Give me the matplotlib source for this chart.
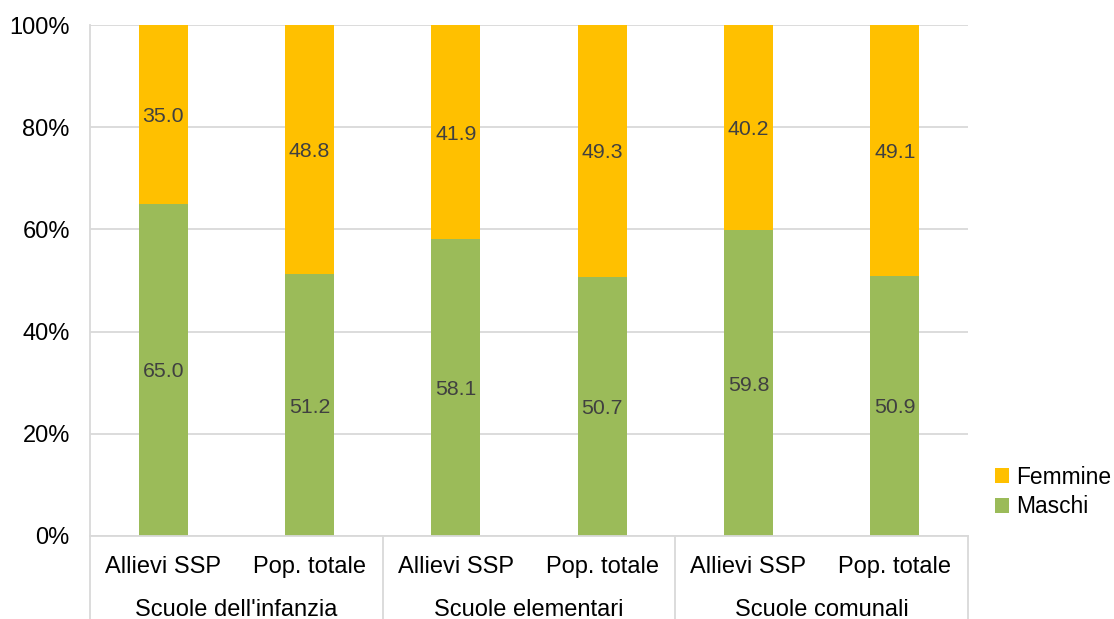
import matplotlib
matplotlib.use("Agg")
import matplotlib.pyplot as plt
from matplotlib.patches import Patch
from matplotlib.lines import Line2D

plt.rcParams['font.family'] = ['Liberation Sans', 'DejaVu Sans']

groups = ["Scuole dell'infanzia", "Scuole elementari", "Scuole comunali"]
subcats = ["Allievi SSP", "Pop. totale", "Allievi SSP", "Pop. totale", "Allievi SSP", "Pop. totale"]
maschi = [65.0, 51.2, 58.1, 50.7, 59.8, 50.9]
femmine = [35.0, 48.8, 41.9, 49.3, 40.2, 49.1]

GREEN = "#9BBB59"
YELLOW = "#FFC000"
GRID = "#D9D9D9"
LBL = "#404040"

fig = plt.figure(figsize=(11.14, 6.19), dpi=100)
ax = fig.add_axes([90/1114, 1-536/619, (968-90)/1114, (536-25)/619])

x = list(range(len(subcats)))
w = 0.333
ax.bar(x, maschi, width=w, color=GREEN, zorder=2, label="Maschi")
ax.bar(x, femmine, width=w, bottom=maschi, color=YELLOW, zorder=2, label="Femmine")

for i in x:
    ax.text(i, maschi[i]/2, f"{maschi[i]:.1f}", ha="center", va="center_baseline",
            fontsize=15.3, color=LBL, zorder=3)
    ax.text(i, maschi[i] + femmine[i]/2, f"{femmine[i]:.1f}", ha="center", va="center_baseline",
            fontsize=15.3, color=LBL, zorder=3)

ax.set_xlim(-0.5, len(subcats) - 0.5)
ax.set_ylim(0, 100)
ax.set_yticks([0, 20, 40, 60, 80, 100])
ax.set_yticklabels(["0%", "20%", "40%", "60%", "80%", "100%"], fontsize=17)
ax.yaxis.grid(True, color=GRID, linewidth=1.3, zorder=0)
ax.set_axisbelow(True)
ax.tick_params(axis="y", length=0, pad=14.5, colors="black")
ax.tick_params(axis="x", length=0)
ax.set_xticks([])

for s in ["top", "right"]:
    ax.spines[s].set_visible(False)
ax.spines["left"].set_color(GRID)
ax.spines["left"].set_linewidth(1.3)
ax.spines["bottom"].set_color(GRID)
ax.spines["bottom"].set_linewidth(1.3)

# sub-category labels and group labels
for i, s in enumerate(subcats):
    ax.text(i, -5.5, s, ha="center", va="center_baseline", fontsize=17, clip_on=False)
for g, name in enumerate(groups):
    ax.text(2*g + 0.5, -14, name, ha="center", va="center_baseline", fontsize=17, clip_on=False)

# group separators
for b in [-0.5, 1.5, 3.5, 5.5]:
    ax.add_line(Line2D([b, b], [0, -17], color=GRID, linewidth=1.3, clip_on=False))

handles = [Patch(facecolor=YELLOW, label="Femmine"), Patch(facecolor=GREEN, label="Maschi")]
fig.legend(handles=handles, loc="center left", bbox_to_anchor=(986/1114, 1-492/619),
           frameon=False, fontsize=16.4, handlelength=0.62, handleheight=0.62,
           handletextpad=0.3, labelspacing=0.3, borderaxespad=0)

fig.savefig("out.png", dpi=100)
